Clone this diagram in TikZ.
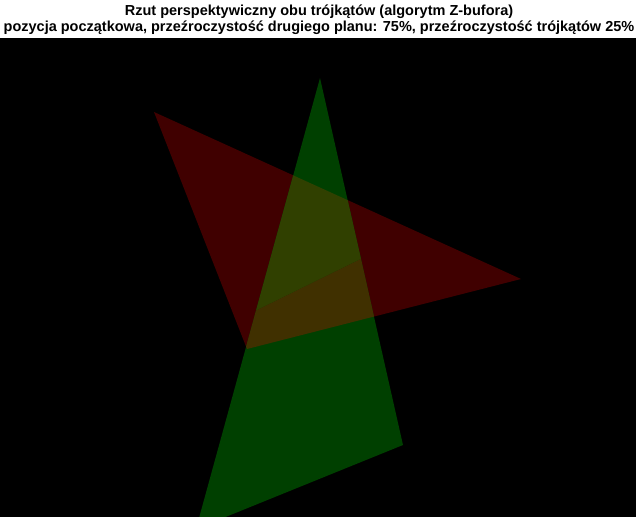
\documentclass[tikz,border=0pt]{standalone}
\usepackage{fontspec}
\setmainfont{Liberation Sans}
\definecolor{redtri}{RGB}{64,0,0}
\definecolor{greentri}{RGB}{0,64,0}
\definecolor{olivetri}{RGB}{48,64,0}
\definecolor{browntri}{RGB}{64,48,0}
\tikzset{titletext/.style={font=\bfseries\fontsize{14.5}{16}\selectfont, inner sep=0pt, anchor=base}}
\begin{document}
\begin{tikzpicture}[x=1pt,y=-1pt]
\useasboundingbox (0,0) rectangle (638,517);
\fill[white] (0,0) rectangle (638,517);
\fill[black] (0,38) rectangle (636,517);
% vertices
\coordinate (A) at (154,112);
\coordinate (B) at (521,279);
\coordinate (C) at (247,349);
\coordinate (D) at (320,78);
\coordinate (E) at (403,445);
\coordinate (F) at (196,529);
\coordinate (SL) at (256,310.5);
\coordinate (SR) at (361,258.8);
\begin{scope}
\clip (0,38) rectangle (636,517);
\fill[redtri] (A) -- (B) -- (C) -- cycle;
\fill[greentri] (D) -- (E) -- (F) -- cycle;
\begin{scope}
\clip (A) -- (B) -- (C) -- cycle;
\fill[olivetri] (D) -- (SR) -- (SL) -- cycle;
\fill[browntri] (SL) -- (SR) -- (E) -- (F) -- cycle;
\end{scope}
\end{scope}
\node[titletext] (t1) at (319,15) {Rzut perspektywiczny obu trójkątów (algorytm Z-bufora)};
\node[titletext] (t2) at (319,31) {pozycja początkowa, przeźroczystość drugiego planu: 75\%, przeźroczystość trójkątów 25\%};
\end{tikzpicture}
\end{document}
